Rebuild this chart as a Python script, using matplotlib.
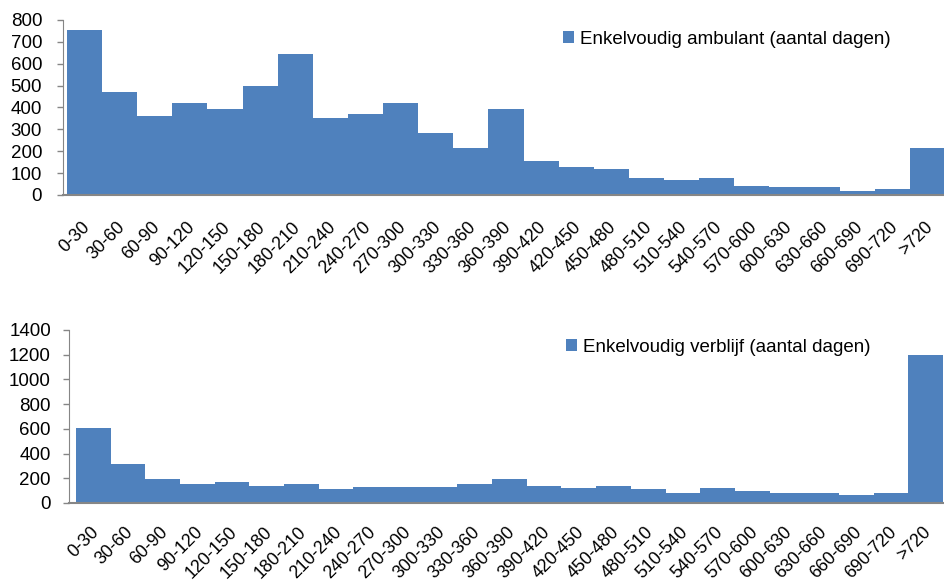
import matplotlib.pyplot as plt
import matplotlib.transforms as mtransforms
import numpy as np

plt.rcParams['font.family'] = ['Liberation Sans', 'DejaVu Sans']

categorieen = ['0-30', '30-60', '60-90', '90-120', '120-150', '150-180', '180-210',
               '210-240', '240-270', '270-300', '300-330', '330-360', '360-390',
               '390-420', '420-450', '450-480', '480-510', '510-540', '540-570',
               '570-600', '600-630', '630-660', '660-690', '690-720', '>720']

ambulant = [752, 470, 360, 420, 395, 497, 643, 352, 369, 420, 282, 215, 395,
            154, 128, 119, 76, 68, 76, 43, 35, 35, 17, 26, 215]

verblijf = [603, 317, 196, 153, 169, 137, 153, 110, 126, 126, 126, 153, 196,
            137, 121, 137, 110, 83, 121, 94, 83, 83, 67, 83, 1200]

kleur = '#4F81BD'
grijs = '#868686'
fs = 13.5


def teken_histogram(fig, ax, waarden, label, ymax, stap, links, ypad, xpad, legend_pos):
    x = np.arange(len(categorieen))
    ax.bar(x, waarden, width=1.0, color=kleur, linewidth=0, label=label)
    ax.set_xlim(-0.5 - links, len(categorieen) - 0.5)
    ax.set_ylim(0, ymax)
    ax.set_yticks(np.arange(0, ymax + 1, stap))
    ax.set_xticks(x)
    ax.set_xticklabels(categorieen, rotation=45, ha='right', va='center',
                       rotation_mode='anchor', fontsize=12.8)
    ax.tick_params(axis='x', length=0, pad=xpad)
    ax.tick_params(axis='y', length=4, width=1, color=grijs, labelsize=fs, pad=ypad)
    # labels iets naar rechts, zoals in Excel
    verschuiving = mtransforms.ScaledTranslation(2 / 72, 0, fig.dpi_scale_trans)
    for t in ax.get_xticklabels():
        t.set_transform(t.get_transform() + verschuiving)
    for s in ['top', 'right']:
        ax.spines[s].set_visible(False)
    ax.spines['left'].set_color(grijs)
    ax.spines['bottom'].set_color(grijs)
    ax.spines['bottom'].set_linewidth(1.5)
    ax.legend(loc='upper left', bbox_to_anchor=legend_pos, frameon=False,
              fontsize=fs, handlelength=0.6, handleheight=0.6,
              handletextpad=0.3, borderaxespad=0)


fig = plt.figure(figsize=(9.45, 5.88), dpi=100)

ax1 = fig.add_axes([0.0667, 0.6684, 0.9333, 0.2976])
teken_histogram(fig, ax1, ambulant, 'Enkelvoudig ambulant (aantal dagen)', 800, 100,
                0.11, 11, 21, (0.558, 0.98))

ax2 = fig.add_axes([0.073, 0.1446, 0.9249, 0.2942])
teken_histogram(fig, ax2, verblijf, 'Enkelvoudig verblijf (aantal dagen)', 1400, 200,
                0.2, 9, 19, (0.56, 0.993))

plt.savefig('out.png', dpi=100)
plt.close()
